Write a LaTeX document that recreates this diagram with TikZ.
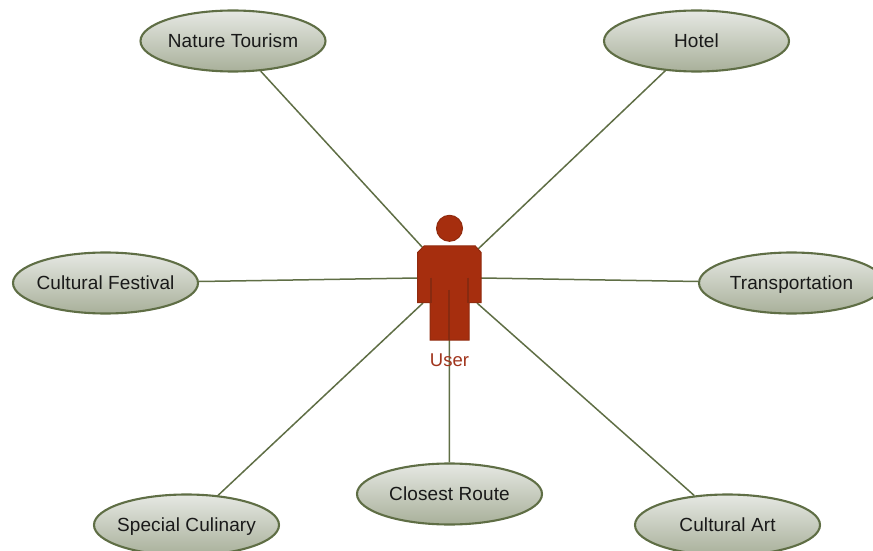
\documentclass[tikz,border=0pt]{standalone}
\usepackage{fontspec}
\setmainfont{Liberation Sans}
\usetikzlibrary{shapes.geometric}
\definecolor{edgegreen}{HTML}{5F6E45}
\definecolor{shadetop}{HTML}{E6E8E3}
\definecolor{shadebot}{HTML}{A8B09A}
\definecolor{userred}{HTML}{A62E0E}
\definecolor{userdark}{HTML}{872A10}
\definecolor{usertext}{HTML}{A0341C}
\newcommand{\lbl}[1]{\makebox[0pt][c]{#1}}
\tikzset{
  usecase/.style={ellipse,draw=edgegreen,line width=2.1bp,top color=shadetop,bottom color=shadebot,
    minimum width=185bp,minimum height=61bp,inner sep=0pt,text=black!90,text height=14.5bp,text depth=1.5bp,
    font=\fontsize{19bp}{20bp}\selectfont\addfontfeature{LetterSpace=0.6}},
  link/.style={draw=edgegreen,line width=1.5bp},
  actor/.style={fill=userred,draw=userdark!70!userred,line width=1bp},
  actorline/.style={draw=userdark,line width=1.8bp},
  actorlabel/.style={text=usertext,inner sep=0pt,font=\fontsize{18.5bp}{20bp}\selectfont}
}
\begin{document}
\begin{tikzpicture}[x=1bp,y=-1bp]
\useasboundingbox (0,0) rectangle (873,551);
\clip (0,0) rectangle (873,551);
\coordinate (ul) at (423,248);
\coordinate (ur) at (477,250);
\coordinate (ml) at (418,278);
\coordinate (mr) at (481,278);
\coordinate (ll) at (423,303);
\coordinate (lr) at (477,303);
\coordinate (bm) at (449.3,340);
\node[usecase] (nature) at (233,41) {\lbl{Nature Tourism}};
\node[usecase] (hotel) at (696.5,41) {\lbl{Hotel}};
\node[usecase] (festival) at (105.5,283) {\lbl{Cultural Festival}};
\node[usecase] (transport) at (791.5,283) {\lbl{Transportation}};
\node[usecase] (culinary) at (186.5,525) {\lbl{Special Culinary}};
\node[usecase] (route) at (449.5,494) {\lbl{Closest Route}};
\node[usecase] (art) at (727.5,525) {\lbl{Cultural Art}};
\draw[link] (nature) -- (ul);
\draw[link] (hotel) -- (ur);
\draw[link] (festival) -- (ml);
\draw[link] (transport) -- (mr);
\draw[link] (culinary) -- (ll);
\draw[link] (route) -- (bm);
\draw[link] (art) -- (lr);
\node[actorlabel] (userlabel) at (449.5,360) {User};
\draw[actor] (449.5,228.3) circle (13bp);
\draw[actor] (424,246) -- (475.3,246) -- (481,252.3) -- (481,302.7) -- (469,302.7) -- (469,340)
  -- (430,340) -- (430,302.7) -- (417.7,302.7) -- (417.7,252.3) -- cycle;
\draw[actorline] (430.7,277.7) -- (430.7,302.7);
\draw[actorline] (468,277.7) -- (468,302.7);
\draw[actorline] (449.3,290) -- (449.3,340);
\end{tikzpicture}
\end{document}
